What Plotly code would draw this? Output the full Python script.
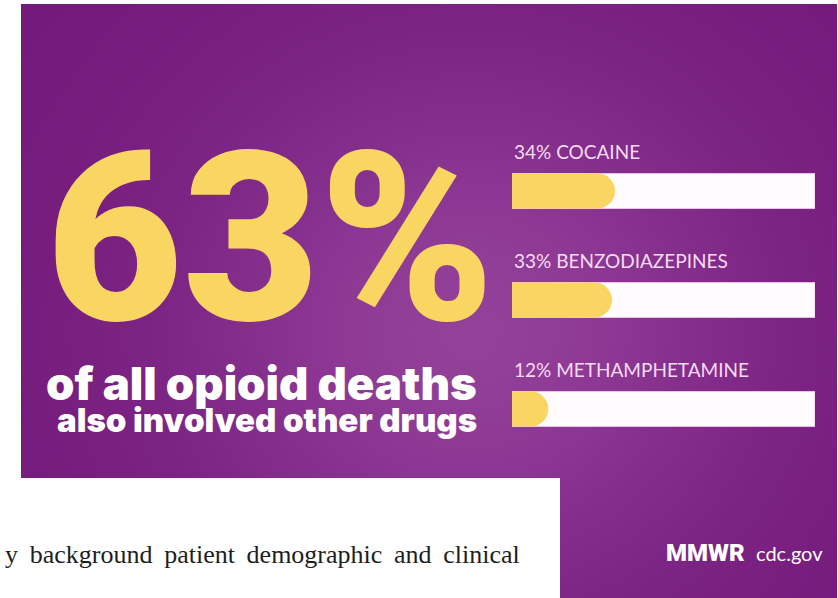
import numpy as np
import plotly.graph_objects as go

W, H = 838, 598

# Data
headline_pct = "63%"
headline_line1 = "of all opioid deaths"
headline_line2 = "also involved other drugs"
drugs = ["COCAINE", "BENZODIAZEPINES", "METHAMPHETAMINE"]
drug_pct = [34, 33, 12]
footer_words = ["y", "background", "patient", "demographic", "and", "clinical"]

PURPLE_DARK = "#741a7c"
PURPLE_LIGHT = "#93409a"
YELLOW = "#f9d562"
TRACK = "#fffbff"
LABEL = "#f6dbf2"


def px_x(p):
    return p / W


def px_y(p):
    return 1 - p / H


fig = go.Figure()

# Purple panel with a soft central glow
gx = np.linspace(0, 1, 120)
gy = np.linspace(0, 1, 100)
GX, GY = np.meshgrid(gx, gy)
glow = np.exp(-((GX - 0.55) / 0.35) ** 2 - ((GY - 0.45) / 0.45) ** 2)
fig.add_trace(go.Heatmap(
    x=gx, y=gy, z=glow, xaxis="x2", yaxis="y2",
    colorscale=[[0, PURPLE_DARK], [1, PURPLE_LIGHT]],
    showscale=False, hoverinfo="skip", zsmooth="best",
))

# Bar panel
track_max = 100
bar_px = 303
bar_h_px = 35
cap_r = (bar_h_px / 2) / bar_px * track_max
pos = list(range(len(drugs)))

fig.add_trace(go.Bar(
    x=[track_max] * len(drugs), y=pos, orientation="h",
    xaxis="x3", yaxis="y3", width=0.32,
    marker=dict(color=TRACK, line=dict(color="#f0c3ec", width=1)),
    hoverinfo="skip",
))
fig.add_trace(go.Bar(
    x=[v - cap_r for v in drug_pct], y=pos, orientation="h",
    xaxis="x3", yaxis="y3", width=0.32,
    marker=dict(color=YELLOW, line=dict(width=0)),
    hoverinfo="skip",
))
fig.add_trace(go.Scatter(
    x=[v - cap_r for v in drug_pct], y=pos, mode="markers",
    xaxis="x3", yaxis="y3",
    marker=dict(color=YELLOW, size=bar_h_px, line=dict(width=0)),
    hoverinfo="skip", cliponaxis=False,
))

annotations = []
for i, (name, v) in enumerate(zip(drugs, drug_pct)):
    annotations.append(dict(
        x=0, y=i - 0.36, xref="x3", yref="y3", text=f"{v}% {name}",
        showarrow=False, xanchor="left", yanchor="middle",
        font=dict(family="Lato", size=19, color=LABEL),
    ))

annotations += [
    dict(x=px_x(270), y=px_y(239), xref="paper", yref="paper", text=headline_pct,
         showarrow=False, xanchor="center", yanchor="middle",
         font=dict(family="Roboto", size=236, color=YELLOW, weight=900)),
    dict(x=px_x(261), y=px_y(383), xref="paper", yref="paper", text=headline_line1,
         showarrow=False, xanchor="center", yanchor="middle",
         font=dict(family="Inter", size=45.5, color="white", weight=900)),
    dict(x=px_x(267), y=px_y(420), xref="paper", yref="paper", text=headline_line2,
         showarrow=False, xanchor="center", yanchor="middle",
         font=dict(family="Inter", size=33, color="white", weight=900)),
    dict(x=px_x(522), y=px_y(554), xref="paper", yref="paper",
         text="\u2009 ".join(footer_words),
         showarrow=False, xanchor="right", yanchor="middle",
         font=dict(family="Liberation Serif", size=26, color="#1e1e1e")),
    dict(x=px_x(747), y=px_y(553), xref="paper", yref="paper", text="MMWR",
         showarrow=False, xanchor="right", yanchor="middle",
         font=dict(family="Roboto", size=24, color="white", weight=900)),
    dict(x=px_x(754), y=px_y(553), xref="paper", yref="paper", text="cdc.gov",
         showarrow=False, xanchor="left", yanchor="middle",
         font=dict(family="Lato", size=20, color="white")),
]

# White block covering the lower-left corner
shapes = [dict(type="rect", xref="paper", yref="paper", layer="above",
               x0=0, x1=px_x(560), y0=0, y1=px_y(478),
               fillcolor="white", line=dict(width=0))]

top_px, bot_px = 130, 440
unit_px = 109
y_top = -(191 - top_px) / unit_px
y_bot = y_top + (bot_px - top_px) / unit_px

fig.update_layout(
    width=W, height=H, margin=dict(l=0, r=0, t=0, b=0),
    paper_bgcolor="white", plot_bgcolor="rgba(0,0,0,0)",
    showlegend=False, barmode="overlay",
    xaxis=dict(visible=False), yaxis=dict(visible=False),
    xaxis2=dict(domain=[px_x(21), px_x(837)], range=[0, 1], visible=False, anchor="y2"),
    yaxis2=dict(domain=[0, px_y(4)], range=[0, 1], visible=False, anchor="x2"),
    xaxis3=dict(domain=[px_x(512), px_x(815)], range=[0, track_max], visible=False,
                anchor="y3", fixedrange=True),
    yaxis3=dict(domain=[px_y(bot_px), px_y(top_px)], range=[y_bot, y_top],
                visible=False, anchor="x3", fixedrange=True),
    annotations=annotations, shapes=shapes,
)

fig.write_html("out.html")
